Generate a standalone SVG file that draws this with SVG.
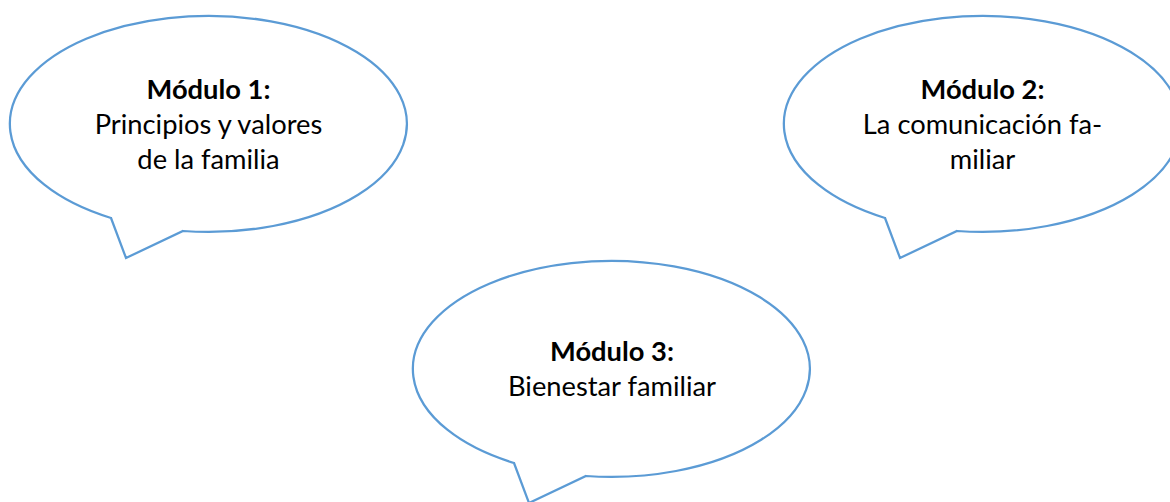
<svg xmlns="http://www.w3.org/2000/svg" width="1170" height="502" viewBox="0 0 1170 502">
<defs>
<style>
.bub{fill:#ffffff;stroke:#5B9BD5;stroke-width:2.25;stroke-linejoin:miter}
.t{font-family:Lato,"Liberation Sans",sans-serif;font-size:27.3px;fill:#000000;text-anchor:middle}
.b{font-weight:bold}
</style>
<path id="callout" d="M111,218 L126,258 L183,231 A198.5,108 0 1 0 111,218 Z"/>
</defs>
<rect width="1170" height="502" fill="#ffffff"/>
<g id="modulo1">
<use href="#callout" class="bub"/>
<text class="t b" x="208.5" y="99">Módulo 1:</text>
<text class="t" x="208.5" y="134">Principios y valores</text>
<text class="t" x="208.5" y="169">de la familia</text>
</g>
<g id="modulo2">
<use href="#callout" class="bub" transform="translate(774,0)"/>
<text class="t b" x="982.5" y="99">Módulo 2:</text>
<text class="t" x="982.5" y="134">La comunicación fa-</text>
<text class="t" x="982.5" y="169">miliar</text>
</g>
<g id="modulo3">
<use href="#callout" class="bub" transform="translate(403,245)"/>
<text class="t b" x="612" y="361">Módulo 3:</text>
<text class="t" x="612" y="396">Bienestar familiar</text>
</g>
<g id="connectors"></g>
</svg>
